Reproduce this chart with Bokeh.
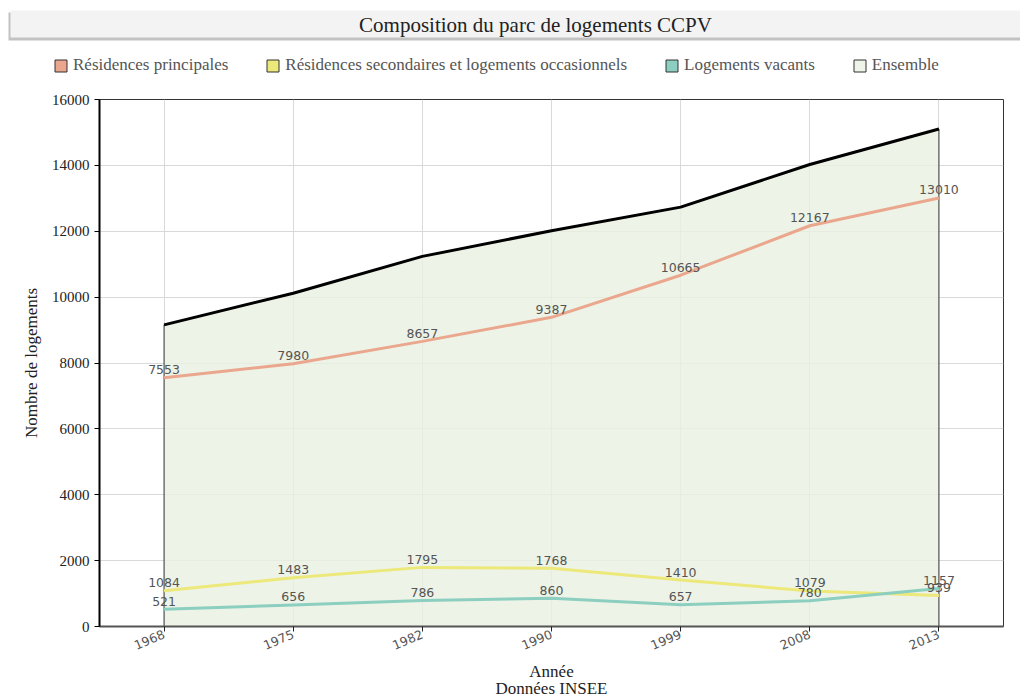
from bokeh.plotting import figure
from bokeh.layouts import column, row
from bokeh.models import (Range1d, FactorRange, FixedTicker, ColumnDataSource, Legend, LegendItem)
from bokeh.core.properties import value
from bokeh.embed import file_html
from bokeh.resources import INLINE

# ---- data ----
years = ["1968", "1975", "1982", "1990", "1999", "2008", "2013"]
principales = [7553, 7980, 8657, 9387, 10665, 12167, 13010]
secondaires = [1084, 1483, 1795, 1768, 1410, 1079, 939]
vacants = [521, 656, 786, 860, 657, 780, 1157]
ensemble = [9158, 10119, 11238, 12015, 12732, 14026, 15106]
y_ticks = [0, 2000, 4000, 6000, 8000, 10000, 12000, 14000, 16000]

series_names = ["Résidences principales", "Résidences secondaires et logements occasionnels",
                "Logements vacants", "Ensemble"]
series_colors = ["#eaa78e", "#ece87a", "#8ccfc0", "#000000"]
legend_fill = ["#eaa78e", "#ece87a", "#8ccfc0", "#eef4e8"]

title_text = "Composition du parc de logements CCPV"
x_label = "Année\nDonnées INSEE"
y_label = "Nombre de logements"

SERIF = "Liberation Serif"
NAN = float("nan")

# ---------- header (banner, title, legend) ----------
TOP_H = 89
top = figure(width=1020, height=TOP_H, x_range=Range1d(0, 1020), y_range=Range1d(TOP_H, 0),
             x_axis_type=None, y_axis_type=None, output_backend="svg", toolbar_location=None,
             min_border=0, outline_line_color=None)
top.grid.visible = False
top.background_fill_color = "white"
top.border_fill_color = "white"
# banner shadow + banner
top.quad(left=[8], right=[1020], top=[12], bottom=[40], fill_color="#c2c2c2", line_color=None)
top.quad(left=[10], right=[1020], top=[10], bottom=[37], fill_color="#f3f3f3", line_color=None)
top.text(x=[535], y=[24], text=[title_text], text_align="center", text_baseline="middle",
         text_font=value(SERIF), text_font_size="21px", text_color="#222222")

items = []
for name, fc in zip(series_names, legend_fill):
    r = top.quad(left=[NAN], right=[NAN], top=[NAN], bottom=[NAN], fill_color=fc,
                 line_color="#333333", line_width=1)
    items.append(LegendItem(label=name, renderers=[r]))
legend = Legend(items=items, orientation="horizontal", location=(53, 14),
                glyph_width=15, glyph_height=15, label_standoff=5, spacing=37,
                padding=0, margin=0, border_line_color=None, background_fill_alpha=0,
                label_text_font=SERIF, label_text_font_size="17px",
                label_text_color="#555555", label_text_baseline="middle")
top.add_layout(legend, "center")

# ---------- main chart ----------
p = figure(width=1020, height=700 - TOP_H, x_range=FactorRange(factors=years), y_range=Range1d(0, 16000),
           output_backend="svg", toolbar_location=None,
           min_border_left=99, min_border_right=17, min_border_top=10, min_border_bottom=74)
p.background_fill_color = "white"
p.border_fill_color = "white"
p.outline_line_color = "#333333"
p.outline_line_width = 1

# area under Ensemble
xs = years + years[::-1]
ys = ensemble + [0] * len(years)
p.patch(xs, ys, fill_color="#e8f0e0", fill_alpha=0.8, line_color="#333333", line_width=1)

# lines
for vals, col in zip([principales, secondaires, vacants, ensemble], series_colors):
    p.line(years, vals, line_color=col, line_width=3)

# data labels
for vals in [principales, secondaires, vacants]:
    src = ColumnDataSource(dict(x=years, y=vals, t=[str(v) for v in vals]))
    p.text(x="x", y="y", text="t", source=src, text_align="center", text_baseline="middle",
           y_offset=-8, text_font=value("DejaVu Sans"), text_font_size="12.5px", text_color="#555555")

# axes
p.yaxis.ticker = FixedTicker(ticks=y_ticks)
p.yaxis.axis_line_width = 2
p.yaxis.axis_line_color = "#000000"
p.yaxis.major_tick_out = 5
p.yaxis.major_tick_in = 0
p.yaxis.minor_tick_line_color = None
p.yaxis.major_label_text_font = SERIF
p.yaxis.major_label_text_font_size = "15px"
p.yaxis.major_label_text_color = "#222222"
p.yaxis.axis_label = y_label
p.yaxis.axis_label_text_font = SERIF
p.yaxis.axis_label_text_font_size = "17px"
p.yaxis.axis_label_text_font_style = "normal"
p.yaxis.axis_label_text_color = "#222222"
p.yaxis.axis_label_standoff = 8

p.xaxis.axis_line_width = 2
p.xaxis.axis_line_color = "#555555"
p.xaxis.major_tick_out = 5
p.xaxis.major_tick_in = 0
p.xaxis.major_tick_line_color = "#222222"
p.xaxis.major_label_orientation = 0.4
p.xaxis.major_label_standoff = 2
p.xaxis.major_label_text_font = "DejaVu Sans"
p.xaxis.major_label_text_font_size = "12.5px"
p.xaxis.major_label_text_color = "#555555"
p.xaxis.axis_label = x_label
p.xaxis.axis_label_text_font = SERIF
p.xaxis.axis_label_text_font_size = "17px"
p.xaxis.axis_label_text_font_style = "normal"
p.xaxis.axis_label_text_color = "#222222"
p.xaxis.axis_label_text_line_height = 0.88
p.xaxis.axis_label_standoff = 5

p.xgrid.grid_line_color = "#d9d9d9"
p.ygrid.grid_line_color = "#d9d9d9"

open("out.html", "w").write(file_html(column(row(top), p), INLINE))
